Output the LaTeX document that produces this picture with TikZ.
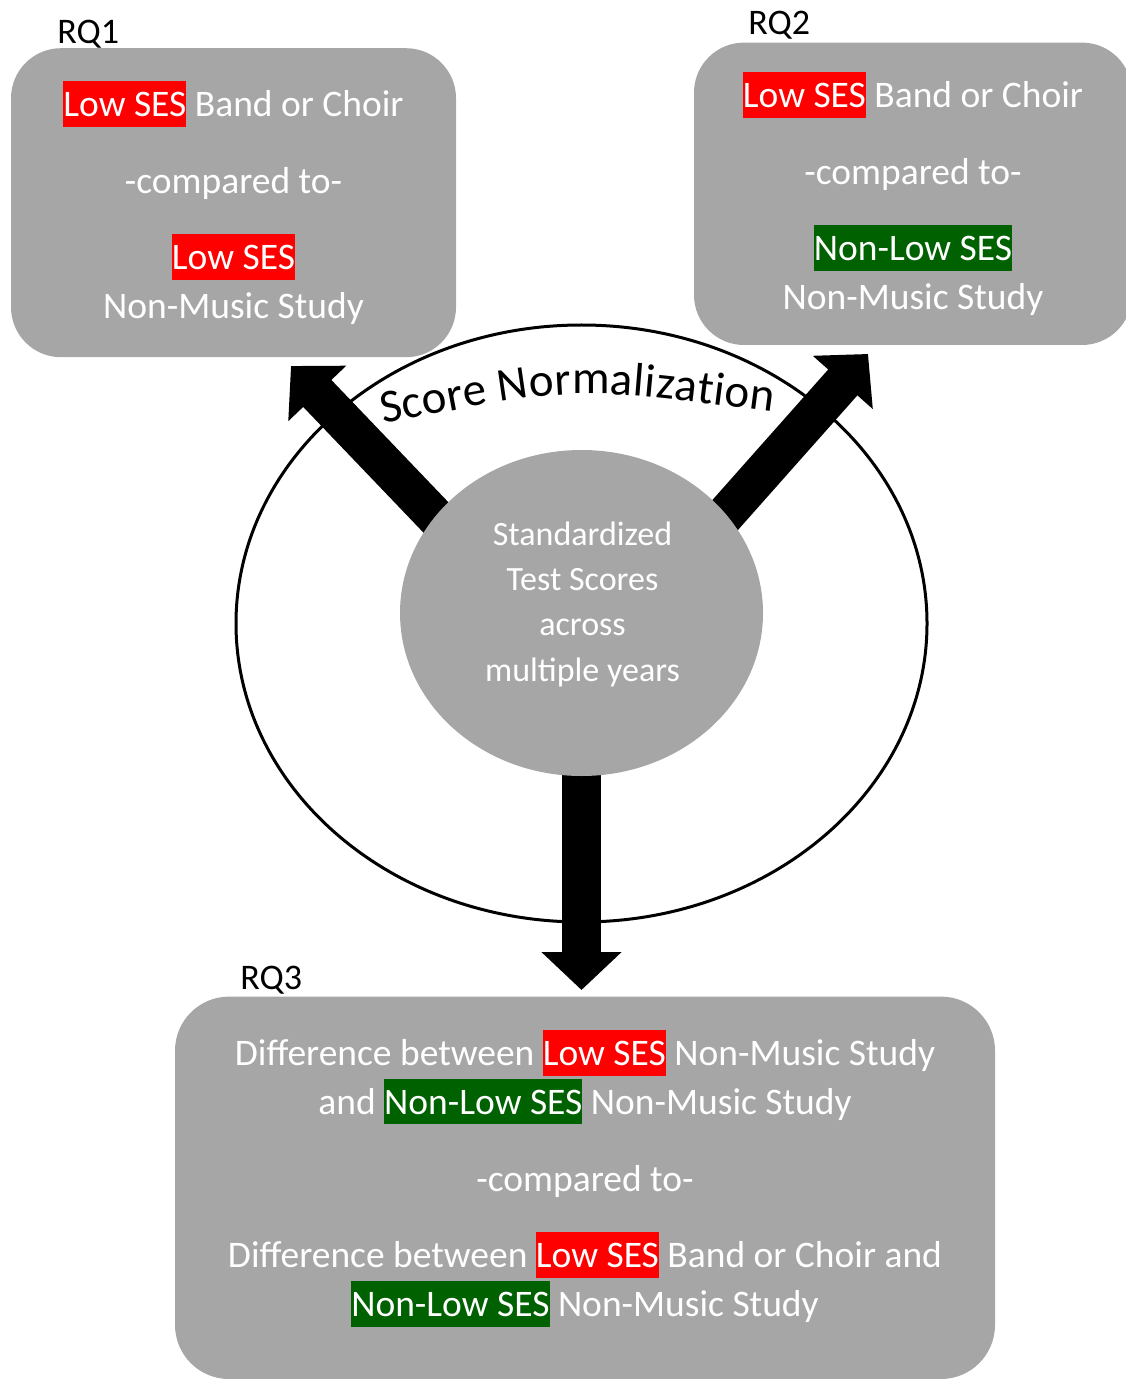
\documentclass[tikz,border=0pt]{standalone}
\usepackage{fontspec}
\setmainfont{Carlito}
\usepackage{tikz}
\usetikzlibrary{arrows.meta,positioning,shapes.geometric,decorations.text,backgrounds}

\definecolor{boxgray}{HTML}{A6A6A6}
\definecolor{sesred}{HTML}{FF0000}
\definecolor{sesgreen}{HTML}{006100}

% highlighted words, as a marker over the whole line height
\newcommand{\seshl}[2]{{\setlength{\fboxsep}{0pt}\colorbox{#1}{\rule[-0.269em]{0pt}{1.221em}#2}}}

\begin{document}
\begin{tikzpicture}[x=0.5pt, y=-0.5pt,
  rqbox/.style={fill=boxgray, rounded corners=25pt, inner sep=0pt, align=center, text=white,
    font=\fontsize{18.75pt}{24.35pt}\selectfont},
  rqlabel/.style={anchor=base west, inner sep=0pt, font=\fontsize{18pt}{22pt}\selectfont},
  bigarr/.style={line width=19.5pt, -{Triangle[width=39pt, length=19pt]}}]

  \useasboundingbox (0,0) rectangle (1125,1379);

  % normalization ring
  \node[ellipse, draw, line width=1.5pt, minimum width=345.5pt, minimum height=298.5pt, inner sep=0pt] (ring) at (581.5,623.5) {};
  \path[decorate, decoration={text along path, text align={fit to path},
      text={|\fontsize{23.5pt}{28pt}\selectfont|Score Normalization}}]
    (383,424) .. controls (575,386) .. (773,412);

  % test scores in the middle
  \node[ellipse, fill=boxgray, minimum width=181.5pt, minimum height=163pt, inner sep=0pt] (scores) at (581.5,613) {};
  \node[align=center, text=white, font=\fontsize{17pt}{22.65pt}\selectfont] (scorestext) at (582.5,604)
    {Standardized\\Test Scores\\across\\multiple years};

  \coordinate (rq1tip) at (291,366);
  \coordinate (rq2tip) at (868,354);
  \coordinate (rq3tip) at (581.5,990);
  \begin{pgfonlayer}{background}
    \draw[bigarr] ([shift={(-112.5,-61)}]scores.center) -- (rq1tip);
    \draw[bigarr] ([shift={(113.5,-64)}]scores.center) -- (rq2tip);
    \draw[bigarr] ([shift={(0,87)}]scores.center) -- (rq3tip);
  \end{pgfonlayer}

  % research questions
  \node[rqbox, minimum width=222.5pt, minimum height=154.5pt] (rq1) at (233.5,202.7)
    {\seshl{sesred}{Low SES} Band or Choir\\[14pt]
     -compared to-\\[14pt]
     \seshl{sesred}{Low SES}\\
     Non-Music Study};
  \node[rqbox, minimum width=219pt, minimum height=151.2pt] (rq2) at (913,193.8)
    {\seshl{sesred}{Low SES} Band or Choir\\[14pt]
     -compared to-\\[14pt]
     \seshl{sesgreen}{Non-Low SES}\\
     Non-Music Study};
  \node[rqbox, rounded corners=27pt, minimum width=410pt, minimum height=191.2pt] (rq3) at (585,1187.8)
    {Difference between \seshl{sesred}{Low SES} Non-Music Study\\
     and \seshl{sesgreen}{Non-Low SES} Non-Music Study\\[14pt]
     -compared to-\\[14pt]
     Difference between \seshl{sesred}{Low SES} Band or Choir and\\
     \seshl{sesgreen}{Non-Low SES} Non-Music Study\rule[-14.6pt]{0pt}{14.6pt}};

  \node[rqlabel] (rq1lbl) at (57,43.3) {RQ1};
  \node[rqlabel] (rq2lbl) at (748,35) {RQ2};
  \node[rqlabel] (rq3lbl) at (240,989) {RQ3};
\end{tikzpicture}
\end{document}
